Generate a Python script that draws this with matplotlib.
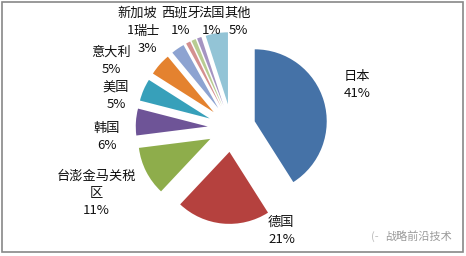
import matplotlib
matplotlib.use('Agg')
import matplotlib.pyplot as plt
from matplotlib.patches import Rectangle

plt.rcParams['font.family'] = ['Noto Sans CJK SC', 'DejaVu Sans']

# 各国占比(%)
countries = ['日本', '德国', '台澎金马关税\n区', '韩国', '美国', '意大利',
             '瑞士', '新加坡', '西班牙', '法国', '其他']
shares = [41, 21, 11, 6, 5, 5, 3, 1, 1, 1, 5]
colors = ['#4572A7', '#B5413E', '#8EAD4B', '#6E5497', '#37A0BA', '#E4822F',
          '#8DA3D1', '#D4908F', '#B8CC92', '#A594C2', '#93C4D6']

# 标签位置(像素, 左上为原点)
label_pos = [(357, 85), (268, 231), (96, 193), (107, 137), (116, 96),
             (111, 61), (147, 40), (137, 22), (181, 22), (212, 22), (238, 22)]
label_ha = ['center', 'left', 'center', 'center', 'center', 'center',
            'center', 'center', 'center', 'center', 'center']

W, H = 466, 256
cx, cy, r = 231.7, 128, 72

fig = plt.figure(figsize=(W / 100, H / 100), dpi=100, facecolor='white')
ax = fig.add_axes([0, 0, 1, 1])
ax.pie(shares, colors=colors, startangle=90, counterclock=False,
       explode=[0.333] * len(shares), radius=1,
       wedgeprops=dict(linewidth=0))
ax.set_xlim(-cx / r, (W - cx) / r)
ax.set_ylim(-(H - cy) / r, cy / r)
ax.set_aspect('equal')
ax.axis('off')

# 新加坡先画, 瑞士盖在上面
order = [0, 1, 2, 3, 4, 5, 7, 6, 8, 9, 10]
for i in order:
    x, y = label_pos[i]
    name = countries[i]
    txt = name + '\n' + '%d%%' % shares[i]
    kw = {}
    if i == 6:
        kw['bbox'] = dict(facecolor='white', edgecolor='none', pad=0.5)
    fig.text(x / W, 1 - y / H, txt, ha=label_ha[i], va='center',
             fontsize=9.5, linespacing=1.4, color='#111111', **kw)

fig.text(452 / W, 1 - 237 / H, '战略前沿技术', ha='right', va='center',
         fontsize=8, color='#9a9a9a')
fig.text(375 / W, 1 - 237 / H, '(-', ha='center', va='center',
         fontsize=8, color='#bbbbbb')

fig.patches.append(Rectangle((2 / W, 4 / H), 461 / W, 250 / H,
                             transform=fig.transFigure, fill=False,
                             edgecolor='#888888', linewidth=1.2))

fig.savefig('out.png', dpi=100, facecolor='white')
